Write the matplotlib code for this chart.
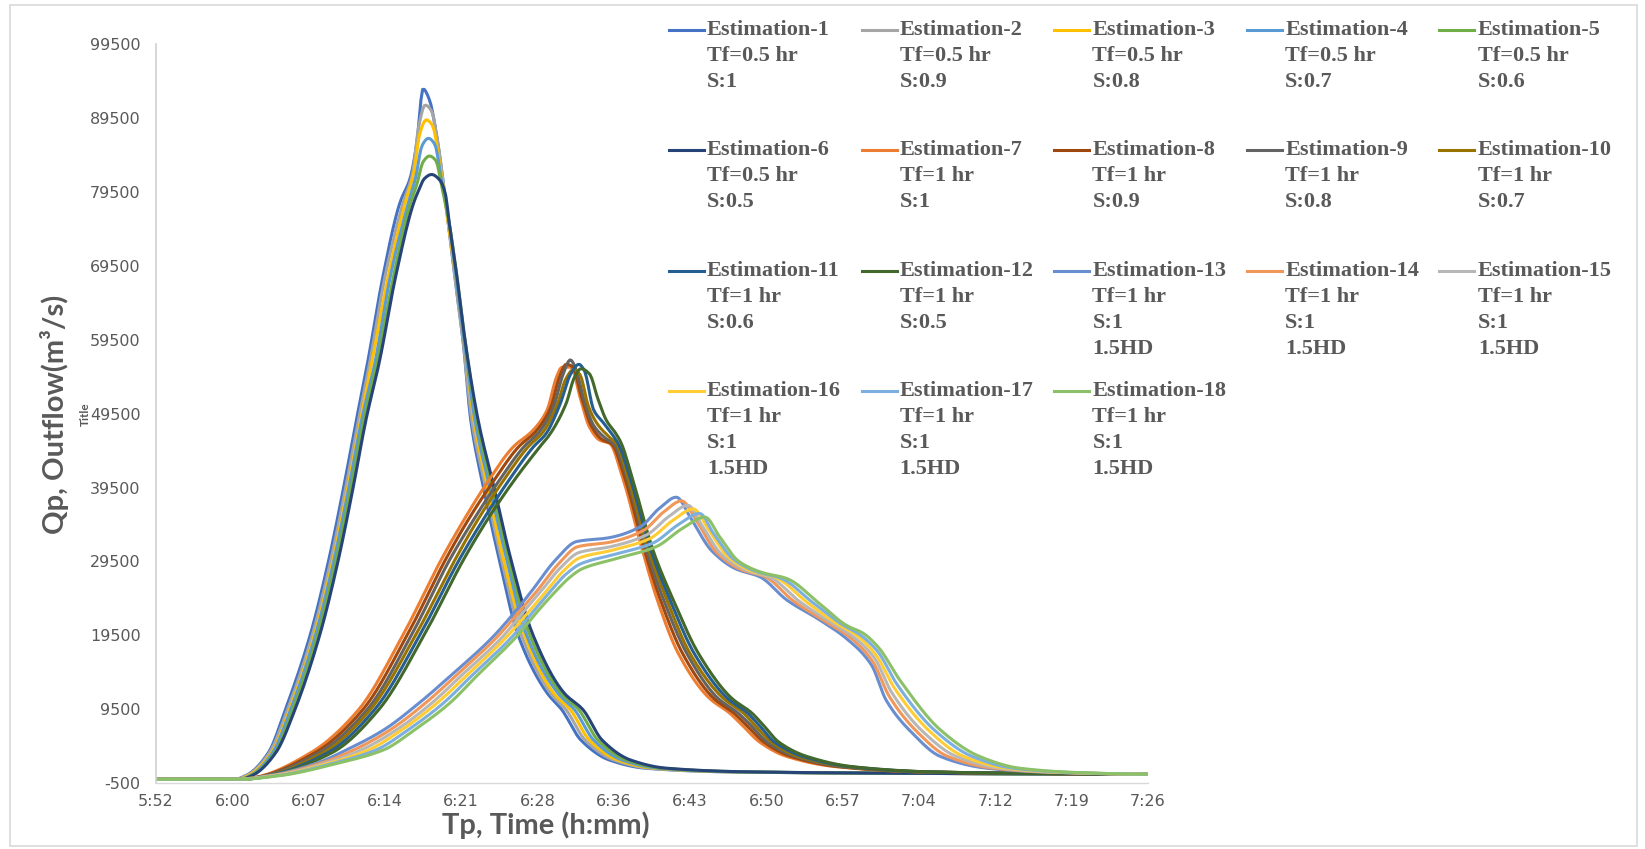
import numpy as np
import matplotlib
matplotlib.use("Agg")
import matplotlib.pyplot as plt
from matplotlib.lines import Line2D
from matplotlib.patches import Rectangle

# ---------------- data (time in minutes after midnight, outflow in m3/s) -------------
x_tick_labels = ["5:52", "6:00", "6:07", "6:14", "6:21", "6:28", "6:36", "6:43",
                 "6:50", "6:57", "7:04", "7:12", "7:19", "7:26"]
y_ticks = [-500, 9500, 19500, 29500, 39500, 49500, 59500, 69500, 79500, 89500, 99500]

series_labels = [
    "Estimation-1\nTf=0.5 hr\nS:1", "Estimation-2\nTf=0.5 hr\nS:0.9",
    "Estimation-3\nTf=0.5 hr\nS:0.8", "Estimation-4\nTf=0.5 hr\nS:0.7",
    "Estimation-5\nTf=0.5 hr\nS:0.6", "Estimation-6\nTf=0.5 hr\nS:0.5",
    "Estimation-7\nTf=1 hr\nS:1", "Estimation-8\nTf=1 hr\nS:0.9",
    "Estimation-9\nTf=1 hr\nS:0.8", "Estimation-10\nTf=1 hr\nS:0.7",
    "Estimation-11\nTf=1 hr\nS:0.6", "Estimation-12\nTf=1 hr\nS:0.5",
    "Estimation-13\nTf=1 hr\nS:1\n1.5HD", "Estimation-14\nTf=1 hr\nS:1\n1.5HD",
    "Estimation-15\nTf=1 hr\nS:1\n1.5HD", "Estimation-16\nTf=1 hr\nS:1\n1.5HD",
    "Estimation-17\nTf=1 hr\nS:1\n1.5HD", "Estimation-18\nTf=1 hr\nS:1\n1.5HD",
]
series_colors = ["#4472C4", "#A5A5A5", "#FFC000", "#5B9BD5", "#70AD47", "#264478",
                 "#ED7D31", "#9E480E", "#636363", "#997300", "#255E91", "#43682B",
                 "#698ED0", "#F1975A", "#B7B7B7", "#FFCD33", "#7CAFDD", "#8CC168"]

# Group A: Tf = 0.5 hr
est1_t = [352.8, 360.2, 361.4, 363.4, 365.0, 367.4, 369.1, 370.5, 371.7, 372.8, 374.2, 375.8,
          376.8, 377.4, 378.0, 378.6, 379.3,
          380.4, 381.0, 381.8, 382.5, 383.7, 385.2, 386.9, 389.7, 391.1, 392.9, 395.6, 399.0, 407.0, 425.0, 446.4]
est1_q = [0, 0, 600, 3600, 9400, 19800, 29700, 39500, 48600, 56700, 68000, 78000,
          81500, 86100, 93500, 92000, 87000,
          75000, 68000, 59000, 48600, 39500, 29700, 19800, 11700, 9400, 5300, 2600, 1500, 1000, 800, 700]
est2_t = [352.8, 360.3, 361.5, 363.5, 365.2, 367.6, 369.3, 370.7, 371.9, 373.0, 374.4, 376.1,
          377.0, 377.6, 378.2, 378.8, 379.4,
          380.4, 381.0, 381.8, 382.6, 383.9, 385.4, 387.2, 390.0, 391.5, 393.3, 396.0, 399.4, 407.4, 425.2, 446.4]
est2_q = [0, 0, 600, 3600, 9400, 19800, 29700, 39500, 48600, 56700, 68000, 78000,
          82000, 88500, 91300, 90500, 86000,
          75000, 68000, 59000, 48600, 39500, 29700, 19800, 11700, 9400, 5300, 2600, 1500, 1000, 800, 700]
est3_t = [352.8, 360.4, 361.6, 363.7, 365.4, 367.8, 369.5, 370.9, 372.1, 373.2, 374.7, 376.3,
          377.1, 377.7, 378.3, 378.9, 379.5,
          380.4, 381.1, 381.9, 382.8, 384.1, 385.6, 387.5, 390.3, 391.9, 393.7, 396.4, 399.8, 407.8, 425.4, 446.4]
est3_q = [0, 0, 600, 3600, 9400, 19800, 29700, 39500, 48600, 56700, 68000, 78000,
          82000, 87500, 89300, 88500, 84000,
          75000, 68000, 59000, 48600, 39500, 29700, 19800, 11700, 9400, 5300, 2600, 1500, 1000, 800, 700]
est4_t = [352.8, 360.6, 361.8, 363.8, 365.5, 367.9, 369.6, 371.0, 372.2, 373.5, 374.9, 376.6,
          377.3, 377.9, 378.5, 379.1, 379.7,
          380.5, 381.1, 381.9, 382.9, 384.3, 385.9, 387.7, 390.7, 392.3, 394.1, 396.8, 400.2, 408.2, 425.6, 446.4]
est4_q = [0, 0, 600, 3600, 9400, 19800, 29700, 39500, 48600, 56700, 68000, 78000,
          81500, 85800, 86800, 86000, 81500,
          75000, 68000, 59000, 48600, 39500, 29700, 19800, 11700, 9400, 5300, 2600, 1500, 1000, 800, 700]
est5_t = [352.8, 360.7, 361.9, 364.0, 365.7, 368.1, 369.8, 371.2, 372.4, 373.7, 375.2, 376.8,
          377.4, 378.0, 378.6, 379.2, 379.8,
          380.5, 381.2, 382.0, 383.1, 384.5, 386.1, 388.0, 391.0, 392.7, 394.5, 397.2, 400.6, 408.6, 425.8, 446.4]
est5_q = [0, 0, 600, 3600, 9400, 19800, 29700, 39500, 48600, 56700, 68000, 78000,
          80500, 83600, 84400, 83800, 80000,
          75000, 68000, 59000, 48600, 39500, 29700, 19800, 11700, 9400, 5300, 2600, 1500, 1000, 800, 700]
est6_t = [352.8, 360.8, 362.0, 364.1, 365.9, 368.3, 370.0, 371.4, 372.6, 373.9, 375.4, 377.1,
          377.6, 378.1, 378.8, 379.6, 380.1,
          380.5, 381.2, 382.0, 383.2, 384.7, 386.3, 388.3, 391.3, 393.1, 394.9, 397.6, 401.0, 409.0, 426.0, 446.4]
est6_q = [0, 0, 600, 3600, 9400, 19800, 29700, 39500, 48600, 56700, 68000, 78000,
          79800, 81300, 81900, 81100, 79300,
          75000, 68000, 59000, 48600, 39500, 29700, 19800, 11700, 9400, 5300, 2600, 1500, 1000, 800, 700]

# Group B: Tf = 1 hr
est7_t = [352.8, 360.5, 361.9, 367.4, 371.9, 376.2, 379.7, 381.8, 384.2, 386.5,
          388.4, 389.7, 390.6, 391.1, 392.0, 392.8, 393.7, 394.7, 395.6,
          396.8, 398.7, 400.1, 402.1, 405.0, 406.9, 408.0, 409.8, 412.3, 417.0, 424.9, 435.0, 446.4]
est7_q = [0, 0, 200, 3600, 9400, 19800, 29700, 35000, 40500, 45000,
          47300, 50000, 54500, 55800, 55800, 51800, 47700, 45900, 45500,
          41000, 31000, 24300, 17000, 11000, 9000, 7500, 5000, 3100, 1700, 1000, 800, 700]
est8_t = [352.8, 360.6, 362.0, 367.8, 372.3, 376.6, 380.1, 382.2, 384.7, 387.0,
          388.7, 390.0, 390.9, 391.5, 392.1, 393.0, 393.9, 394.9, 395.8,
          397.0, 398.9, 400.4, 402.5, 405.4, 407.3, 408.4, 410.2, 412.7, 417.3, 425.1, 435.2, 446.4]
est8_q = [0, 0, 200, 3600, 9400, 19800, 29700, 35000, 40500, 45000,
          47200, 50200, 54600, 56200, 55900, 51500, 47800, 46000, 45400,
          41000, 31000, 24300, 17000, 11000, 9000, 7500, 5000, 3100, 1700, 1000, 800, 700]
est9_t = [352.8, 360.7, 362.1, 368.2, 372.7, 377.0, 380.5, 382.7, 385.2, 387.5,
          389.0, 390.3, 391.2, 391.9, 392.4, 393.2, 394.1, 395.2, 396.0,
          397.2, 399.1, 400.7, 402.9, 405.8, 407.7, 408.8, 410.5, 413.1, 417.6, 425.3, 435.4, 446.4]
est9_q = [0, 0, 200, 3600, 9400, 19800, 29700, 35000, 40500, 45000,
          47100, 50400, 54800, 56800, 55600, 51300, 47900, 46200, 45400,
          41000, 31000, 24300, 17000, 11000, 9000, 7500, 5000, 3100, 1700, 1000, 800, 700]
est10_t = [352.8, 360.8, 362.3, 368.6, 373.0, 377.4, 381.0, 383.1, 385.6, 387.9,
           389.3, 390.6, 391.5, 392.2, 392.8, 393.6, 394.5, 395.6, 396.3,
           397.3, 399.3, 401.0, 403.2, 406.3, 408.2, 409.2, 410.9, 413.4, 418.0, 425.6, 435.6, 446.4]
est10_q = [0, 0, 200, 3600, 9400, 19800, 29700, 35000, 40500, 45000,
           47000, 50500, 54300, 55500, 54800, 50500, 48000, 46300, 45300,
           41000, 31000, 24300, 17000, 11000, 9000, 7500, 5000, 3100, 1700, 1000, 800, 700]
est11_t = [352.8, 360.9, 362.4, 369.0, 373.4, 377.8, 381.4, 383.6, 386.1, 388.4,
           389.6, 390.9, 391.9, 392.7, 393.2, 394.1, 395.0, 396.0, 396.5,
           397.5, 399.5, 401.3, 403.6, 406.7, 408.6, 409.6, 411.2, 413.8, 418.3, 425.8, 435.8, 446.4]
est11_q = [0, 0, 200, 3600, 9400, 19800, 29700, 35000, 40500, 45000,
           46800, 50700, 54800, 56200, 55400, 50000, 48300, 46400, 45200,
           41000, 31000, 24300, 17000, 11000, 9000, 7500, 5000, 3100, 1700, 1000, 800, 700]
est12_t = [352.8, 361.0, 362.5, 369.4, 373.8, 378.2, 381.8, 384.0, 386.6, 389.0,
           390.0, 391.5, 392.3, 392.9, 393.7, 394.5, 395.3, 396.2, 396.7,
           397.7, 399.7, 401.6, 404.0, 407.1, 409.0, 410.0, 411.6, 414.2, 418.6, 426.0, 436.0, 446.4]
est12_q = [0, 0, 200, 3600, 9400, 19800, 29700, 35000, 40500, 45000,
           46800, 50900, 54500, 55600, 54900, 51500, 48600, 46800, 45500,
           41000, 31000, 24300, 17000, 11000, 9000, 7500, 5000, 3100, 1700, 1000, 800, 700]

# Group C: Tf = 1 hr, 1.5HD
est13_t = [352.8, 360.4, 363.5, 368.0, 370.8, 374.3, 377.6, 380.5, 384.6, 386.8, 388.3,
           390.5, 392.5, 395.5, 398.5, 400.3, 401.9, 403.2, 405.2, 407.5, 409.8, 412.3, 415.4,
           418.0, 420.3, 421.7, 424.2, 426.8, 431.2, 436.2, 446.4]
est13_q = [0, 0, 500, 2200, 4000, 6700, 10300, 13900, 19300, 22900, 25600,
           29700, 32200, 32700, 34200, 36700, 38200, 35500, 31000, 28500, 27400, 24300, 21600,
           19000, 15500, 10700, 6200, 3100, 1500, 1000, 700]
est14_t = [352.8, 360.4, 363.7, 368.4, 371.5, 374.9, 378.2, 381.0, 385.0, 387.2, 388.8,
           390.8, 392.6, 395.6, 398.8, 400.7, 402.4, 403.8, 405.7, 408.0, 410.3, 412.9, 415.9,
           418.3, 420.4, 422.0, 424.7, 427.5, 431.8, 437.0, 446.4]
est14_q = [0, 0, 500, 2200, 4000, 6700, 10300, 13900, 19300, 22900, 25600,
           29200, 31500, 32100, 33700, 36200, 37700, 35000, 30700, 28400, 27400, 24200, 21400,
           19200, 16000, 11200, 6300, 3100, 1500, 980, 700]
est15_t = [352.8, 360.5, 363.9, 368.8, 372.2, 375.5, 378.8, 381.5, 385.5, 387.6, 389.2,
           391.0, 392.7, 395.7, 399.1, 401.2, 403.0, 404.3, 406.2, 408.5, 410.8, 413.5, 416.4,
           418.6, 420.6, 422.2, 425.2, 428.3, 432.4, 437.7, 446.4]
est15_q = [0, 0, 500, 2200, 4000, 6700, 10300, 13900, 19300, 22900, 25600,
           28700, 30700, 31500, 33100, 35600, 37100, 34400, 30400, 28300, 27300, 24100, 21300,
           19300, 16400, 11800, 6400, 3100, 1500, 960, 700]
est16_t = [352.8, 360.5, 364.1, 369.2, 372.9, 376.0, 379.3, 382.0, 385.9, 388.1, 389.7,
           391.3, 392.8, 395.8, 399.4, 401.6, 403.5, 404.9, 406.8, 409.0, 411.3, 414.2, 417.0,
           418.9, 420.7, 422.5, 425.8, 429.0, 433.1, 438.5, 446.4]
est16_q = [0, 0, 500, 2200, 4000, 6700, 10300, 13900, 19300, 22900, 25600,
           28300, 30000, 31000, 32600, 35100, 36600, 33900, 30100, 28200, 27300, 24000, 21100,
           19500, 16900, 12300, 6500, 3100, 1500, 940, 700]
est17_t = [352.8, 360.6, 364.3, 369.6, 373.6, 376.6, 379.9, 382.5, 386.4, 388.5, 390.1,
           391.5, 392.9, 395.9, 399.7, 402.1, 404.1, 405.4, 407.3, 409.5, 411.8, 414.8, 417.5,
           419.2, 420.9, 422.7, 426.3, 429.8, 433.7, 439.2, 446.4]
est17_q = [0, 0, 500, 2200, 4000, 6700, 10300, 13900, 19300, 22900, 25600,
           27800, 29200, 30400, 32000, 34500, 36000, 33300, 29800, 28100, 27200, 23900, 21000,
           19600, 17300, 12900, 6600, 3100, 1500, 920, 700]
est18_t = [352.8, 360.6, 364.5, 370.0, 374.3, 377.2, 380.5, 383.0, 386.8, 388.9, 390.6,
           391.8, 393.0, 396.0, 400.0, 402.5, 404.6, 406.0, 407.8, 410.0, 412.3, 415.4, 418.0,
           419.5, 421.0, 423.0, 426.8, 430.5, 434.3, 440.0, 446.4]
est18_q = [0, 0, 500, 2200, 4000, 6700, 10300, 13900, 19300, 22900, 25600,
           27300, 28500, 29800, 31500, 34000, 35500, 32800, 29500, 28000, 27200, 23800, 20800,
           19800, 17800, 13400, 6700, 3100, 1500, 900, 700]

series_t = [est1_t, est2_t, est3_t, est4_t, est5_t, est6_t, est7_t, est8_t, est9_t,
            est10_t, est11_t, est12_t, est13_t, est14_t, est15_t, est16_t, est17_t, est18_t]
series_q = [est1_q, est2_q, est3_q, est4_q, est5_q, est6_q, est7_q, est8_q, est9_q,
            est10_q, est11_q, est12_q, est13_q, est14_q, est15_q, est16_q, est17_q, est18_q]

X_MIN, X_MAX = 352.8, 446.4          # 5:52:48 .. 7:26:24
Y_MIN, Y_MAX = -500, 99500


def smooth(x, y, n=600):
    """Monotone cubic (PCHIP) resampling, imitating a smoothed spreadsheet line."""
    x = np.asarray(x, float)
    y = np.asarray(y, float)
    h = np.diff(x)
    d = np.diff(y) / h
    m = np.zeros(len(x))
    for k in range(1, len(x) - 1):
        if d[k - 1] * d[k] > 0:
            w1 = 2 * h[k] + h[k - 1]
            w2 = h[k] + 2 * h[k - 1]
            m[k] = (w1 + w2) / (w1 / d[k - 1] + w2 / d[k])
    xs = np.linspace(x[0], x[-1], n)
    i = np.clip(np.searchsorted(x, xs) - 1, 0, len(x) - 2)
    t = (xs - x[i]) / h[i]
    h00 = 2 * t**3 - 3 * t**2 + 1
    h10 = t**3 - 2 * t**2 + t
    h01 = -2 * t**3 + 3 * t**2
    h11 = t**3 - t**2
    ys = h00 * y[i] + h10 * h[i] * m[i] + h01 * y[i + 1] + h11 * h[i] * m[i + 1]
    return xs, ys


W, H = 1645, 849
fig = plt.figure(figsize=(W / 100, H / 100), dpi=100)
fig.patch.set_facecolor("white")
ax = fig.add_axes([156 / W, 1 - 783 / H, (1148 - 156) / W, (783 - 44.5) / H])

for t, q, c in zip(series_t, series_q, series_colors):
    xs, ys = smooth(t, q)
    ax.plot(xs, ys, color=c, lw=2.2, solid_capstyle="round", solid_joinstyle="round")

ax.set_xlim(X_MIN, X_MAX)
ax.set_ylim(Y_MIN, Y_MAX)
ax.set_xticks(np.linspace(X_MIN, X_MAX, len(x_tick_labels)))
ax.set_xticklabels(x_tick_labels)
ax.set_yticks(y_ticks)
ax.set_yticklabels([str(v) for v in y_ticks])
for lab in ax.get_xticklabels() + ax.get_yticklabels():
    lab.set_fontfamily(["Liberation Sans Narrow", "DejaVu Sans"])
    lab.set_fontsize(11.5)
    lab.set_color("#595959")
ax.tick_params(axis="both", length=0)
ax.tick_params(axis="y", pad=11)
ax.tick_params(axis="x", pad=8)
for s in ["top", "right"]:
    ax.spines[s].set_visible(False)
ax.spines["left"].set_color("#D0D0D0")
ax.spines["bottom"].set_color("#D9D9D9")
ax.spines["left"].set_linewidth(1.2)
ax.spines["bottom"].set_linewidth(1.0)
ax.patch.set_alpha(0)

# axis titles
fig.text(55 / W, 1 - 414 / H, "Qp, Outflow(m³/s)", rotation=90, ha="center", va="center",
         fontsize=21, fontweight="bold", color="#595959", family=["Lato", "DejaVu Sans"])
fig.text(85 / W, 1 - 414 / H, "Title", rotation=90, ha="center", va="center",
         fontsize=8.5, fontweight="bold", color="#595959", family=["Lato", "DejaVu Sans"])
fig.text(546 / W, 1 - 825 / H, "Tp, Time (h:mm)", ha="center", va="center",
         fontsize=21, fontweight="bold", color="#595959", family=["Lato", "DejaVu Sans"])

# legend (5 columns, filled row by row, like the spreadsheet legend)
for i, (lab, c) in enumerate(zip(series_labels, series_colors)):
    row, col = divmod(i, 5)
    y0 = 30 + row * 120.3
    xh = 669 + col * 192.5
    xt = 707 + col * 192.75
    fig.add_artist(Line2D([xh / W, (xh + 35) / W], [1 - y0 / H, 1 - y0 / H],
                          color=c, lw=2.2, transform=fig.transFigure))
    for j, line in enumerate(lab.split("\n")):
        fig.text(xt / W, 1 - (y0 + j * 26) / H, line, ha="left", va="center",
                 fontsize=16, fontweight="bold", color="#595959",
                 family=["Liberation Serif", "DejaVu Serif"])

# chart-area border
fig.add_artist(Rectangle((10 / W, 3 / H), 1627 / W, 841 / H, transform=fig.transFigure,
                         fill=False, edgecolor="#D9D9D9", lw=1.2))

fig.savefig("out.png", dpi=100, facecolor="white")
